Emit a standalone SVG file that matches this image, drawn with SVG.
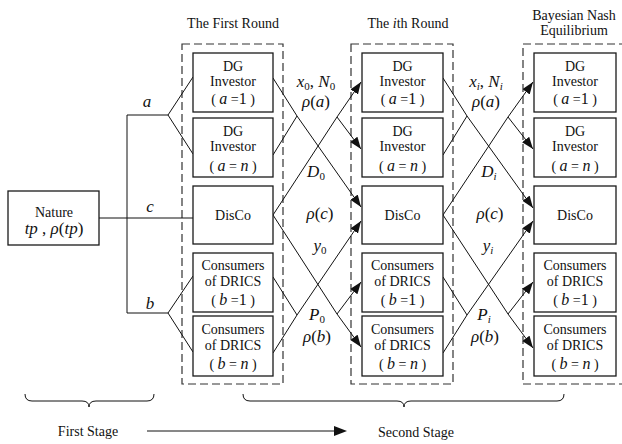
<svg xmlns="http://www.w3.org/2000/svg" width="622" height="444" viewBox="0 0 622 444">
<defs>
<style>
.box{fill:#fff;stroke:#1a1a1a;stroke-width:1.3}
.grp{fill:none;stroke:#333;stroke-width:1.2;stroke-dasharray:8 4}
.ln{fill:none;stroke:#111;stroke-width:1}
.t{font-size:14px;fill:#111;text-anchor:middle}
.m{font-style:italic;font-size:17px;fill:#111;text-anchor:middle}
.i{font-style:italic;font-size:16px}
.n{font-size:16px}
.s{font-size:11px;font-style:normal}
.si{font-size:11px}
.u{font-style:normal}
</style>
<marker id="arr" markerUnits="userSpaceOnUse" markerWidth="13" markerHeight="10" refX="12" refY="4.5" orient="auto">
<path d="M0,0 L12,4.5 L0,9 z" fill="#111"/>
</marker>
</defs>
<rect width="622" height="444" fill="#fff"/>

<g font-family="'Liberation Serif', 'Times New Roman', serif">
<!-- round frames and titles -->
<g id="frames">
<rect class="grp" x="182" y="44" width="101" height="340"/>
<rect class="grp" x="351" y="44" width="102" height="340"/>
<rect class="grp" x="523" y="44" width="104" height="340"/>
<text class="t" x="233" y="28">The First Round</text>
<text class="t" x="408" y="28">The <tspan font-style="italic">i</tspan>th Round</text>
<text class="t" x="574" y="20">Bayesian Nash</text>
<text class="t" x="574" y="35">Equilibrium</text>
</g>

<!-- connectors -->
<g id="connectors">
<!-- nature tree -->
<polyline class="ln" points="99,218 193,218"/>
<polyline class="ln" points="168,115 127,115 127,313 168,313"/>
<polyline class="ln" points="193,77 168,115 193,154"/>
<polyline class="ln" points="193,276 168,313 193,352"/>
<!-- first round to ith round -->
<polyline class="ln" points="273,78 297,116 361,207" marker-end="url(#arr)"/>
<polyline class="ln" points="273,155 297,116"/>
<polyline class="ln" points="273,215 337,117 361,82" marker-end="url(#arr)"/>
<polyline class="ln" points="337,117 361,149" marker-end="url(#arr)"/>
<polyline class="ln" points="273,215 337,314 361,347" marker-end="url(#arr)"/>
<polyline class="ln" points="337,314 361,282" marker-end="url(#arr)"/>
<polyline class="ln" points="273,277 297,315 273,353"/>
<polyline class="ln" points="297,315 361,221" marker-end="url(#arr)"/>
<!-- ith round to equilibrium -->
<polyline class="ln" points="443,78 467,116 533,208" marker-end="url(#arr)"/>
<polyline class="ln" points="443,155 467,116"/>
<polyline class="ln" points="443,215 508,117 533,82" marker-end="url(#arr)"/>
<polyline class="ln" points="508,117 533,149" marker-end="url(#arr)"/>
<polyline class="ln" points="443,215 508,314 533,348" marker-end="url(#arr)"/>
<polyline class="ln" points="508,314 533,282" marker-end="url(#arr)"/>
<polyline class="ln" points="443,277 467,315 443,353"/>
<polyline class="ln" points="467,315 533,221" marker-end="url(#arr)"/>
</g>

<!-- branch and flow labels -->
<g id="labels">
<text class="m" x="147" y="107">a</text>
<text class="m" x="150" y="212">c</text>
<text class="m" x="150" y="309">b</text>

<text class="m" x="316" y="87">x<tspan class="s" dy="3">0</tspan><tspan class="u" dy="-3">, </tspan>N<tspan class="s" dy="3">0</tspan></text>
<text class="m" x="316" y="107">ρ<tspan class="u">(</tspan>a<tspan class="u">)</tspan></text>
<text class="m" x="316" y="177">D<tspan class="s" dy="3">0</tspan></text>
<text class="m" x="320" y="219" font-size="18">ρ<tspan class="u">(</tspan>c<tspan class="u">)</tspan></text>
<text class="m" x="320" y="251">y<tspan class="s" dy="3">0</tspan></text>
<text class="m" x="317" y="320">P<tspan class="s" dy="3">0</tspan></text>
<text class="m" x="317" y="342">ρ<tspan class="u">(</tspan>b<tspan class="u">)</tspan></text>

<text class="m" x="486" y="87">x<tspan class="si" dy="3">i</tspan><tspan class="u" dy="-3">, </tspan>N<tspan class="si" dy="3">i</tspan></text>
<text class="m" x="486" y="107">ρ<tspan class="u">(</tspan>a<tspan class="u">)</tspan></text>
<text class="m" x="489" y="177">D<tspan class="si" dy="3">i</tspan></text>
<text class="m" x="490" y="219" font-size="18">ρ<tspan class="u">(</tspan>c<tspan class="u">)</tspan></text>
<text class="m" x="488" y="251">y<tspan class="si" dy="3">i</tspan></text>
<text class="m" x="484" y="320">P<tspan class="si" dy="3">i</tspan></text>
<text class="m" x="485" y="342">ρ<tspan class="u">(</tspan>b<tspan class="u">)</tspan></text>
</g>

<!-- Nature -->
<g id="nature">
<rect class="box" x="8" y="191" width="91" height="54"/>
<text class="t" x="54" y="217">Nature</text>
<text class="m" x="54" y="234">tp <tspan class="u">,</tspan> ρ<tspan class="u">(</tspan>tp<tspan class="u">)</tspan></text>
</g>

<!-- first round -->
<g id="r1-dg1">
<rect class="box" x="193" y="53" width="80" height="59"/>
<text class="t" x="233" y="71">DG</text>
<text class="t" x="233" y="86">Investor</text>
<text class="t" x="233" y="104">( <tspan class="i">a</tspan> =<tspan class="n">1</tspan> )</text>
</g>
<g id="r1-dgn">
<rect class="box" x="193" y="118" width="80" height="59"/>
<text class="t" x="233" y="136">DG</text>
<text class="t" x="233" y="151">Investor</text>
<text class="t" x="233" y="171">( <tspan class="i">a</tspan> = <tspan class="i">n</tspan> )</text>
</g>
<g id="r1-disco">
<rect class="box" x="193" y="186" width="80" height="58"/>
<text class="t" x="233" y="220">DisCo</text>
</g>
<g id="r1-c1">
<rect class="box" x="193" y="253" width="80" height="59"/>
<text class="t" x="233" y="270">Consumers</text>
<text class="t" x="233" y="286">of DRICS</text>
<text class="t" x="233" y="305">( <tspan class="i">b</tspan> =<tspan class="n">1</tspan> )</text>
</g>
<g id="r1-cn">
<rect class="box" x="193" y="316" width="80" height="60"/>
<text class="t" x="233" y="334">Consumers</text>
<text class="t" x="233" y="350">of DRICS</text>
<text class="t" x="233" y="369">( <tspan class="i">b</tspan> = <tspan class="i">n</tspan> )</text>
</g>

<!-- ith round -->
<g id="ri-dg1">
<rect class="box" x="362" y="53" width="81" height="59"/>
<text class="t" x="402.5" y="71">DG</text>
<text class="t" x="402.5" y="86">Investor</text>
<text class="t" x="402.5" y="104">( <tspan class="i">a</tspan> =<tspan class="n">1</tspan> )</text>
</g>
<g id="ri-dgn">
<rect class="box" x="362" y="118" width="81" height="59"/>
<text class="t" x="402.5" y="136">DG</text>
<text class="t" x="402.5" y="151">Investor</text>
<text class="t" x="402.5" y="171">( <tspan class="i">a</tspan> = <tspan class="i">n</tspan> )</text>
</g>
<g id="ri-disco">
<rect class="box" x="362" y="186" width="81" height="58"/>
<text class="t" x="402.5" y="220">DisCo</text>
</g>
<g id="ri-c1">
<rect class="box" x="362" y="253" width="81" height="59"/>
<text class="t" x="402.5" y="270">Consumers</text>
<text class="t" x="402.5" y="286">of DRICS</text>
<text class="t" x="402.5" y="305">( <tspan class="i">b</tspan> =<tspan class="n">1</tspan> )</text>
</g>
<g id="ri-cn">
<rect class="box" x="362" y="316" width="81" height="60"/>
<text class="t" x="402.5" y="334">Consumers</text>
<text class="t" x="402.5" y="350">of DRICS</text>
<text class="t" x="402.5" y="369">( <tspan class="i">b</tspan> = <tspan class="i">n</tspan> )</text>
</g>

<!-- equilibrium -->
<g id="bne-dg1">
<rect class="box" x="534" y="53" width="82" height="59"/>
<text class="t" x="575" y="71">DG</text>
<text class="t" x="575" y="86">Investor</text>
<text class="t" x="575" y="104">( <tspan class="i">a</tspan> =<tspan class="n">1</tspan> )</text>
</g>
<g id="bne-dgn">
<rect class="box" x="534" y="118" width="82" height="59"/>
<text class="t" x="575" y="136">DG</text>
<text class="t" x="575" y="151">Investor</text>
<text class="t" x="575" y="171">( <tspan class="i">a</tspan> = <tspan class="i">n</tspan> )</text>
</g>
<g id="bne-disco">
<rect class="box" x="534" y="186" width="82" height="58"/>
<text class="t" x="575" y="220">DisCo</text>
</g>
<g id="bne-c1">
<rect class="box" x="534" y="253" width="82" height="59"/>
<text class="t" x="575" y="270">Consumers</text>
<text class="t" x="575" y="286">of DRICS</text>
<text class="t" x="575" y="305">( <tspan class="i">b</tspan> =<tspan class="n">1</tspan> )</text>
</g>
<g id="bne-cn">
<rect class="box" x="534" y="316" width="82" height="60"/>
<text class="t" x="575" y="334">Consumers</text>
<text class="t" x="575" y="350">of DRICS</text>
<text class="t" x="575" y="369">( <tspan class="i">b</tspan> = <tspan class="i">n</tspan> )</text>
</g>

<!-- stage braces and timeline -->
<g id="stages">
<path class="ln" d="M25,394 Q25,401 32,401 L82,401 Q89,401 89,407 Q89,401 96,401 L147,401 Q154,401 154,394"/>
<path class="ln" d="M243,394 Q243,401 250,401 L397,401 Q404,401 404,407 Q404,401 411,401 L557,401 Q564,401 564,394"/>
<line class="ln" x1="147" y1="431" x2="336" y2="431"/>
<path d="M334,426 L347,431 L334,436 z" fill="#111"/>
<text class="t" x="88" y="436">First Stage</text>
<text class="t" x="416" y="437">Second Stage</text>
</g>
</g>
</svg>
